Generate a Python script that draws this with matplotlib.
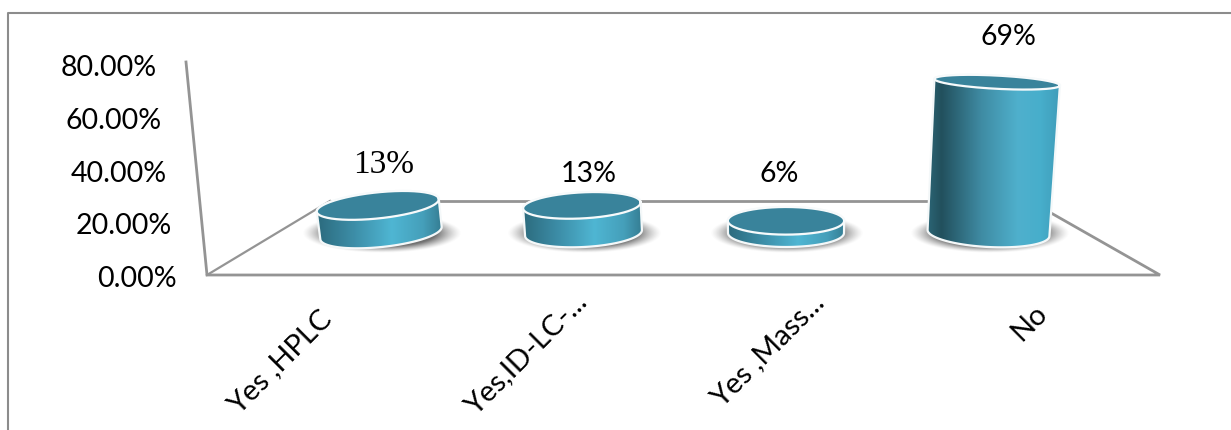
import numpy as np
import matplotlib
matplotlib.use('Agg')
import matplotlib.pyplot as plt
from matplotlib.patches import Polygon
from matplotlib.colors import LinearSegmentedColormap

categorias = ['Yes ,HPLC', 'Yes,ID-LC-...', 'Yes ,Mass...', 'No']
valores = [13, 13, 6, 69]
etiquetas = ['13%', '13%', '6%', '69%']
ticks_y = ['0.00%', '20.00%', '40.00%', '60.00%', '80.00%']

# canvas en pixeles, con y hacia abajo
W, H = 1231, 430
BASE_Y = 233
PX_POR_PCT = 2.2
X0, DX = 381, 202.5
ANCHOS = [122, 117, 116, 122]
GRIS = '#949494'

fig = plt.figure(figsize=(W / 100, H / 100), dpi=100)
ax = fig.add_axes([0, 0, 1, 1])
ax.axis('off')

# degradados del lateral: bajos y cilindro alto
bajo = LinearSegmentedColormap.from_list('bajo', [
    (0, '#2c6b7e'), (0.3, '#3d8ea8'), (0.6, '#4fb6d3'), (0.85, '#459fba'), (1, '#357d93')])
alto = LinearSegmentedColormap.from_list('alto', [
    (0, '#2b6474'), (0.1, '#22505d'), (0.4, '#3f8ba3'), (0.68, '#4fb0cd'), (0.85, '#47aecb'), (1, '#3f9cb9')])


def elipse(cx, cy, a, b, grados, t):
    r = np.radians(grados)
    x = a * np.cos(t)
    y = b * np.sin(t)
    return cx + x * np.cos(r) - y * np.sin(r), cy + x * np.sin(r) + y * np.cos(r)


def sombra(cx, a, b):
    # mancha gris difusa bajo la base
    xs = np.linspace(cx - a, cx + a, 160)
    ys = np.linspace(BASE_Y - b, BASE_Y + b, 80)
    xx, yy = np.meshgrid(xs, ys)
    r = np.sqrt(((xx - cx) / a) ** 2 + ((yy - BASE_Y) / b) ** 2)
    rgba = np.zeros(r.shape + (4,))
    rgba[..., :3] = 0.3
    rgba[..., 3] = 0.8 * np.clip((1 - r) / 0.32, 0, 1) ** 1.3
    ax.imshow(rgba, extent=[xs[0], xs[-1], ys[-1], ys[0]], aspect='auto', zorder=2, interpolation='bilinear')


def cilindro(i, valor):
    cx = X0 + i * DX
    ancho = ANCHOS[i]
    alt = valor * PX_POR_PCT
    # la perspectiva abre y gira los cilindros segun se alejan del centro
    d = cx - 785
    giro = d * 0.0148
    cx_top = cx + d * alt * 0.00028
    a_base = ancho / 2
    a_top = a_base + alt * 0.012
    b_base = 14
    b_top = 14.5 - alt * 0.052
    y_top = BASE_Y - alt + 1

    sombra(cx + 1, a_base + 19, 20)

    t_frente = np.linspace(0, np.pi, 80)
    t_atras = np.linspace(np.pi, 2 * np.pi, 80)
    xb, yb = elipse(cx, BASE_Y, a_base, b_base, giro, t_frente)
    xt, yt = elipse(cx_top, y_top, a_top, b_top, giro, t_atras)
    lateral = Polygon(np.column_stack([np.r_[xb, xt], np.r_[yb, yt]]), closed=True,
                      fc='none', ec='#f4f8f9', lw=1.6, zorder=5)
    ax.add_patch(lateral)

    x1, x2 = min(xb.min(), xt.min()), max(xb.max(), xt.max())
    y1, y2 = yt.min() - 1, yb.max() + 1
    grad = np.linspace(0, 1, 256).reshape(1, -1)
    im = ax.imshow(grad, extent=[x1, x2, y2, y1], aspect='auto', zorder=4,
                   cmap=alto if valor > 30 else bajo)
    im.set_clip_path(lateral)

    t = np.linspace(0, 2 * np.pi, 160)
    xe, ye = elipse(cx_top, y_top, a_top, b_top, giro, t)
    ax.fill(xe, ye, color='#39839b', lw=0, zorder=6)
    ax.plot(xe, ye, color='#f7fafb', lw=1.6, zorder=7)


# marco exterior
ax.plot([8, 8, W], [H, 13, 13], color='#8c8c8c', lw=1.5, zorder=1)

# suelo y eje vertical
ax.plot([330, 1030], [201, 201], color=GRIS, lw=2, zorder=1)
ax.plot([186, 207, 1160, 1030], [62, 275, 275, 201], color=GRIS, lw=2,
        solid_joinstyle='miter', zorder=1)
ax.plot([207, 330], [275, 201], color=GRIS, lw=1.6, zorder=1)

for i, v in enumerate(valores):
    cilindro(i, v)

# eje y, cada marca sigue la inclinacion del eje
for k, t in enumerate(ticks_y):
    ax.text(177 - k * 5, 279 - k * 52.7, t, ha='right', va='center', fontsize=20.5,
            family='Lato', color='black')

# etiquetas de valor
pos_etiquetas = [(384, 165), (589, 174), (779, 174), (1008, 37)]
for j, (e, p) in enumerate(zip(etiquetas, pos_etiquetas)):
    ax.text(p[0], p[1], e, ha='center', va='center', fontsize=24 if j == 0 else 20.5,
            color='black', family='Liberation Serif' if j == 0 else 'Lato')

# categorias giradas
pos_cat = [(318, 306), (573, 288), (811, 289), (1034, 300)]
for c, p in zip(categorias, pos_cat):
    ax.text(p[0], p[1], c, rotation=45, rotation_mode='anchor', ha='right', va='top',
            fontsize=21, family='Lato', color='black')

ax.set_xlim(0, W)
ax.set_ylim(H, 0)
fig.savefig('out.png', dpi=100, facecolor='white')
